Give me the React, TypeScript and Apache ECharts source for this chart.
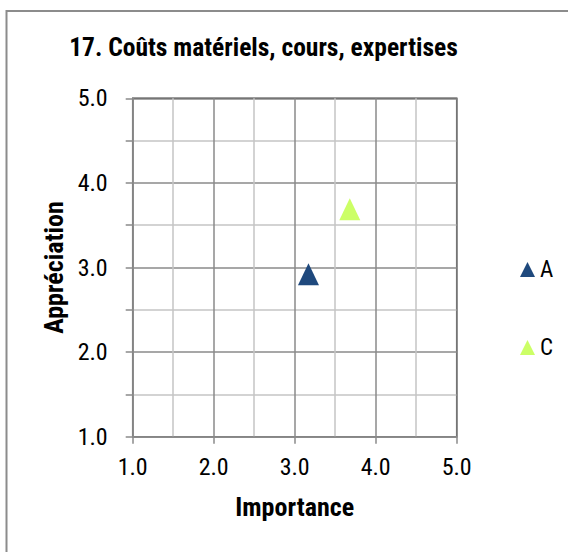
import React, { useEffect, useRef } from "react";
import * as echarts from "echarts";

const title = "17. Coûts matériels, cours, expertises";
const xAxisName = "Importance";
const yAxisName = "Appréciation";
const seriesNames = ["A", "C"];
const seriesColors = ["#1F497D", "#CCFF66"];
const pointsA = [[3.17, 2.92]];
const pointsC = [[3.68, 3.69]];
const axisMin = 1;
const axisMax = 5;

const FONT = "'Roboto Condensed', 'Liberation Sans', Arial, sans-serif";

export default function App() {
  const ref = useRef<HTMLDivElement>(null);
  useEffect(() => {
    if (!ref.current) return;
    const chart = echarts.init(ref.current, null, { renderer: "svg" });
    const gridGray = "#8a8a8a";
    const axisCommon = {
      type: "value",
      min: axisMin,
      max: axisMax,
      interval: 1,
      nameLocation: "middle",
      nameTextStyle: { fontFamily: FONT, fontWeight: "bold", fontSize: 26, color: "#000" },
      axisLine: { show: true, lineStyle: { color: gridGray, width: 1.5 } },
      splitLine: { show: true, lineStyle: { color: gridGray, width: 1.5 } },
      minorSplitLine: { show: true, lineStyle: { color: "#c4c4c4", width: 1.5 } },
      axisTick: { show: true, inside: false, length: 7, lineStyle: { color: gridGray, width: 1.5 } },
    };
    const labelStyle = {
      fontFamily: FONT,
      fontSize: 24,
      color: "#000",
      formatter: (v: number) => v.toFixed(1),
    };
    chart.setOption({
      animation: false,
      backgroundColor: "#fff",
      title: {
        text: title,
        left: 263.5,
        top: 34,
        textAlign: "center",
        padding: 0,
        textStyle: { fontFamily: FONT, fontWeight: "bold", fontSize: 25.5, color: "#000" },
      },
      grid: {
        left: 132.7,
        right: 111.3,
        top: 98.3,
        bottom: 115.3,
        show: true,
        borderColor: "#3a3a3a",
        borderWidth: 1.5,
        backgroundColor: "transparent",
      },
      legend: {
        orient: "vertical",
        left: 520,
        top: 258,
        padding: 0,
        itemGap: 55,
        itemWidth: 15,
        itemHeight: 15,
        icon: "triangle",
        textStyle: { fontFamily: FONT, fontSize: 23, color: "#000" },
        data: seriesNames,
      },
      xAxis: {
        ...axisCommon,
        name: xAxisName,
        nameGap: 57,
        minorTick: { show: false, splitNumber: 2 },
        axisLabel: { ...labelStyle, margin: 18 },
      },
      yAxis: {
        ...axisCommon,
        name: yAxisName,
        nameGap: 54,
        nameRotate: 90,
        minorTick: { show: true, splitNumber: 2, length: 7, lineStyle: { color: gridGray, width: 1.5 } },
        axisLabel: { ...labelStyle, margin: 25 },
      },
      graphic: [
        {
          type: "rect",
          shape: { x: 6.5, y: 11, width: 700, height: 700 },
          style: { fill: "none", stroke: "#8c8c8c", lineWidth: 2 },
          silent: true,
        },
      ],
      series: [
        {
          name: seriesNames[0],
          type: "scatter",
          symbol: "triangle",
          symbolSize: [21, 22],
          itemStyle: { color: seriesColors[0], opacity: 1 },
          data: pointsA,
        },
        {
          name: seriesNames[1],
          type: "scatter",
          symbol: "triangle",
          symbolSize: [21, 22],
          itemStyle: { color: seriesColors[1], opacity: 1 },
          data: pointsC,
        },
      ],
    });
    return () => chart.dispose();
  }, []);
  return (
    <div
      ref={ref}
      style={{ position: "fixed", left: 0, top: 0, width: 568, height: 552 }}
    />
  );
}
